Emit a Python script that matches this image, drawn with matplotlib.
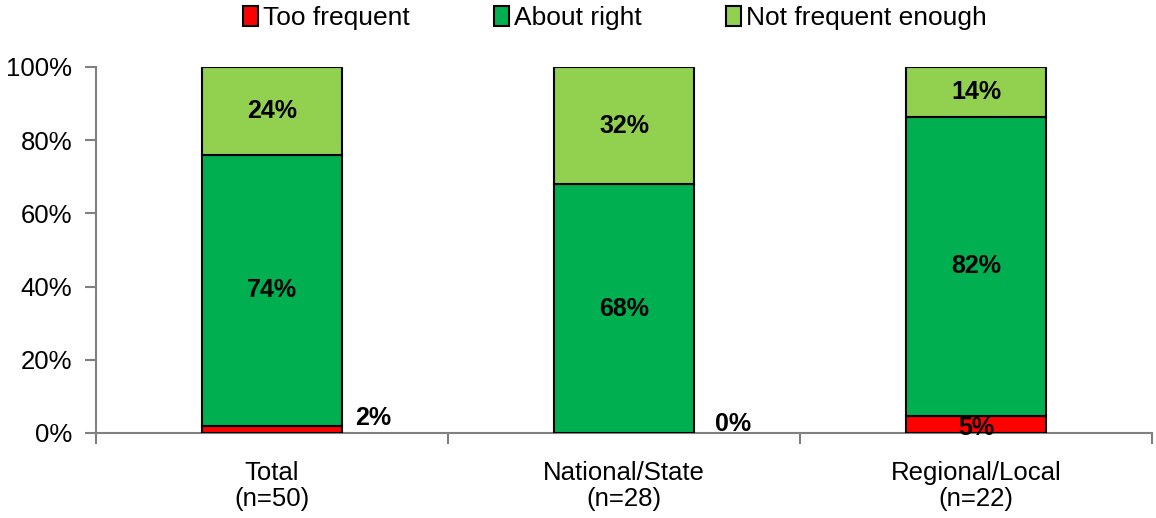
import matplotlib.pyplot as plt
import numpy as np

categories = ["Total\n(n=50)", "National/State\n(n=28)", "Regional/Local\n(n=22)"]
too_frequent = [2.0, 0.0, 4.6]
about_right = [74.0, 67.9, 81.8]
not_enough = [24.0, 32.1, 13.6]
series_names = ["Too frequent", "About right", "Not frequent enough"]
colors = ["#FF0000", "#00B050", "#92D050"]

plt.rcParams['font.family'] = ['Liberation Sans', 'DejaVu Sans']

fig = plt.figure(figsize=(11.56, 5.18), dpi=100)
ax = fig.add_axes([96 / 1156, 1 - 433 / 518, 1056 / 1156, 366 / 518])

x = np.arange(len(categories))
width = 0.395
bottom = np.zeros(len(categories))
bars = []
for vals, name, col in zip([too_frequent, about_right, not_enough], series_names, colors):
    v = np.array(vals) / 100
    ax.bar(x, v, width, bottom=bottom, color=col, edgecolor="black",
           linewidth=1.5, label=name, zorder=3)
    bars.append((v, bottom.copy()))
    bottom += v

# labels for the big segments, centred
for v, bot in bars[1:]:
    for i in range(len(x)):
        ax.text(x[i], bot[i] + v[i] / 2, f"{v[i] * 100:.0f}%",
                ha="center", va="center", fontsize=18, fontweight="bold", zorder=4)

# small "too frequent" labels, placed by hand like the original
small_offsets = [(0.287, 0.041), (0.31, 0.025), (0.0, 0.014)]
for i, (dx, dy) in enumerate(small_offsets):
    ax.text(x[i] + dx, dy, f"{too_frequent[i]:.0f}%", ha="center", va="center",
            fontsize=18, fontweight="bold", zorder=4)

ax.set_xlim(-0.5, 2.5)
ax.set_ylim(0, 1)
ax.set_yticks(np.arange(0, 1.01, 0.2))
ax.set_yticklabels([f"{int(round(t * 100))}%" for t in np.arange(0, 1.01, 0.2)])
ax.set_xticks(x)
ax.set_xticklabels(categories, linespacing=1.1)
ax.set_xticks([-0.5, 0.5, 1.5, 2.5], minor=True)
ax.tick_params(axis="x", which="major", length=0, pad=20, labelsize=18.5)
ax.tick_params(axis="x", which="minor", length=8, color="#808080", width=1.5)
ax.tick_params(axis="y", length=8, color="#808080", width=1.5, labelsize=18.5, pad=9)

for s in ["top", "right"]:
    ax.spines[s].set_visible(False)
for s in ["left", "bottom"]:
    ax.spines[s].set_color("#808080")
    ax.spines[s].set_linewidth(1.5)

fig.legend(loc="center", bbox_to_anchor=(615 / 1156, 1 - 18 / 518), ncol=3,
           frameon=False, fontsize=19, handlelength=0.55, handleheight=0.8,
           handletextpad=0.2, columnspacing=3.2)

fig.savefig("out.png", dpi=100)
